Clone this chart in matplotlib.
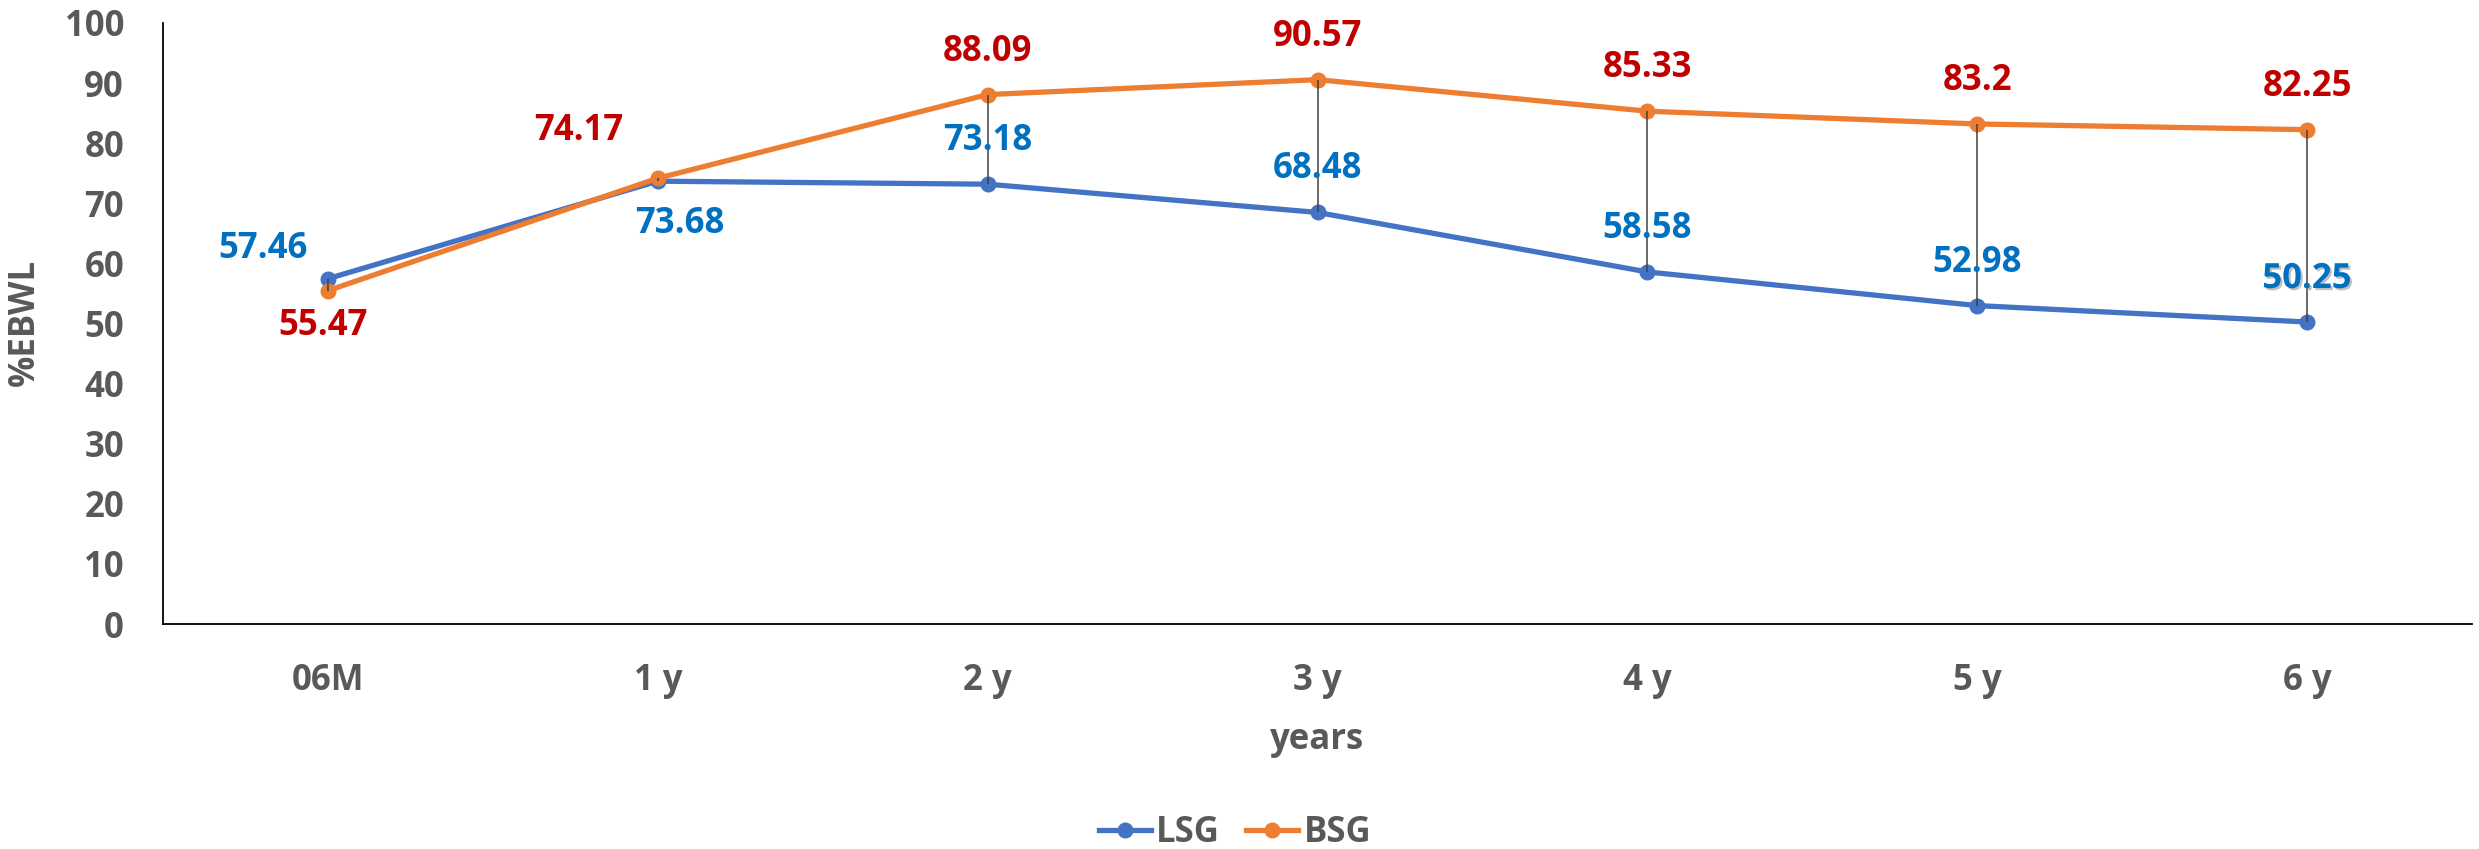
import matplotlib.pyplot as plt
import matplotlib.patheffects as pe
import numpy as np

plt.rcParams['font.family'] = ['Open Sans', 'Lato', 'DejaVu Sans']
plt.rcParams['font.weight'] = 'bold'

categories = ['06M', '1 y', '2 y', '3 y', '4 y', '5 y', '6 y']
lsg = [57.46, 73.68, 73.18, 68.48, 58.58, 52.98, 50.25]
bsg = [55.47, 74.17, 88.09, 90.57, 85.33, 83.2, 82.25]
lsg_labels = ['57.46', '73.68', '73.18', '68.48', '58.58', '52.98', '50.25']
bsg_labels = ['55.47', '74.17', '88.09', '90.57', '85.33', '83.2', '82.25']
yticks = [0, 10, 20, 30, 40, 50, 60, 70, 80, 90, 100]

# label offsets in pixels (x right, y up)
lsg_off = [(-65, 30), (22, -43), (0, 43), (0, 43), (0, 43), (0, 43), (0, 43)]
bsg_off = [(-5, -35), (-79, 47), (0, 43), (0, 43), (0, 43), (0, 43), (0, 43)]

W, H = 2479, 849
fig = plt.figure(figsize=(W / 100, H / 100), dpi=100)
ax = fig.add_axes([163 / W, 1 - 624 / H, (2472 - 163) / W, (624 - 23) / H])

x = np.arange(len(categories))
fs = 25
grey = '#595959'

# high-low lines
ax.vlines(x, lsg, bsg, color='#404040', lw=1.1, zorder=5)

ax.plot(x, lsg, color='#4472C4', lw=3.8, marker='o', ms=10.5, label='LSG', zorder=3)
ax.plot(x, bsg, color='#ED7D31', lw=3.8, marker='o', ms=10.5, label='BSG', zorder=4)

for i in range(len(x)):
    t = ax.annotate(lsg_labels[i], (x[i], lsg[i]), xytext=lsg_off[i],
                    textcoords='offset pixels', ha='center', va='center',
                    color='#0070C0', fontsize=fs, fontweight='bold', zorder=6)
    if i == len(x) - 1:
        t.set_path_effects([pe.withSimplePatchShadow(offset=(1.5, -1.5),
                                                     shadow_rgbFace='#999999', alpha=0.6)])
    ax.annotate(bsg_labels[i], (x[i], bsg[i]), xytext=bsg_off[i],
                textcoords='offset pixels', ha='center', va='center',
                color='#C00000', fontsize=fs, fontweight='bold', zorder=6)

ax.set_xlim(-0.5, 6.5)
ax.set_ylim(0, 100)
ax.set_xticks(x)
ax.set_xticklabels(categories)
ax.set_yticks(yticks)
ax.tick_params(axis='both', length=0, labelsize=fs, labelcolor=grey)
ax.tick_params(axis='y', pad=28)
ax.tick_params(axis='x', pad=28)
for lab in ax.get_xticklabels() + ax.get_yticklabels():
    lab.set_fontweight('bold')

ax.spines['top'].set_visible(False)
ax.spines['right'].set_visible(False)
ax.spines['left'].set_linewidth(1.3)
ax.spines['bottom'].set_linewidth(1.3)

fig.text(25 / W, 1 - 322 / H, '%EBWL', rotation=90, ha='center', va='center',
         fontsize=fs, fontweight='bold', color=grey)
fig.text(1317 / W, 1 - 740 / H, 'years', ha='center', va='center',
         fontsize=fs, fontweight='bold', color=grey)

leg = fig.legend(loc='center', bbox_to_anchor=(1235 / W, 1 - 833 / H), ncol=2,
                 frameon=False, fontsize=fs, handlelength=1.5, handletextpad=0.15,
                 columnspacing=0.75)
for txt in leg.get_texts():
    txt.set_color(grey)

fig.savefig('out.png', dpi=100)
